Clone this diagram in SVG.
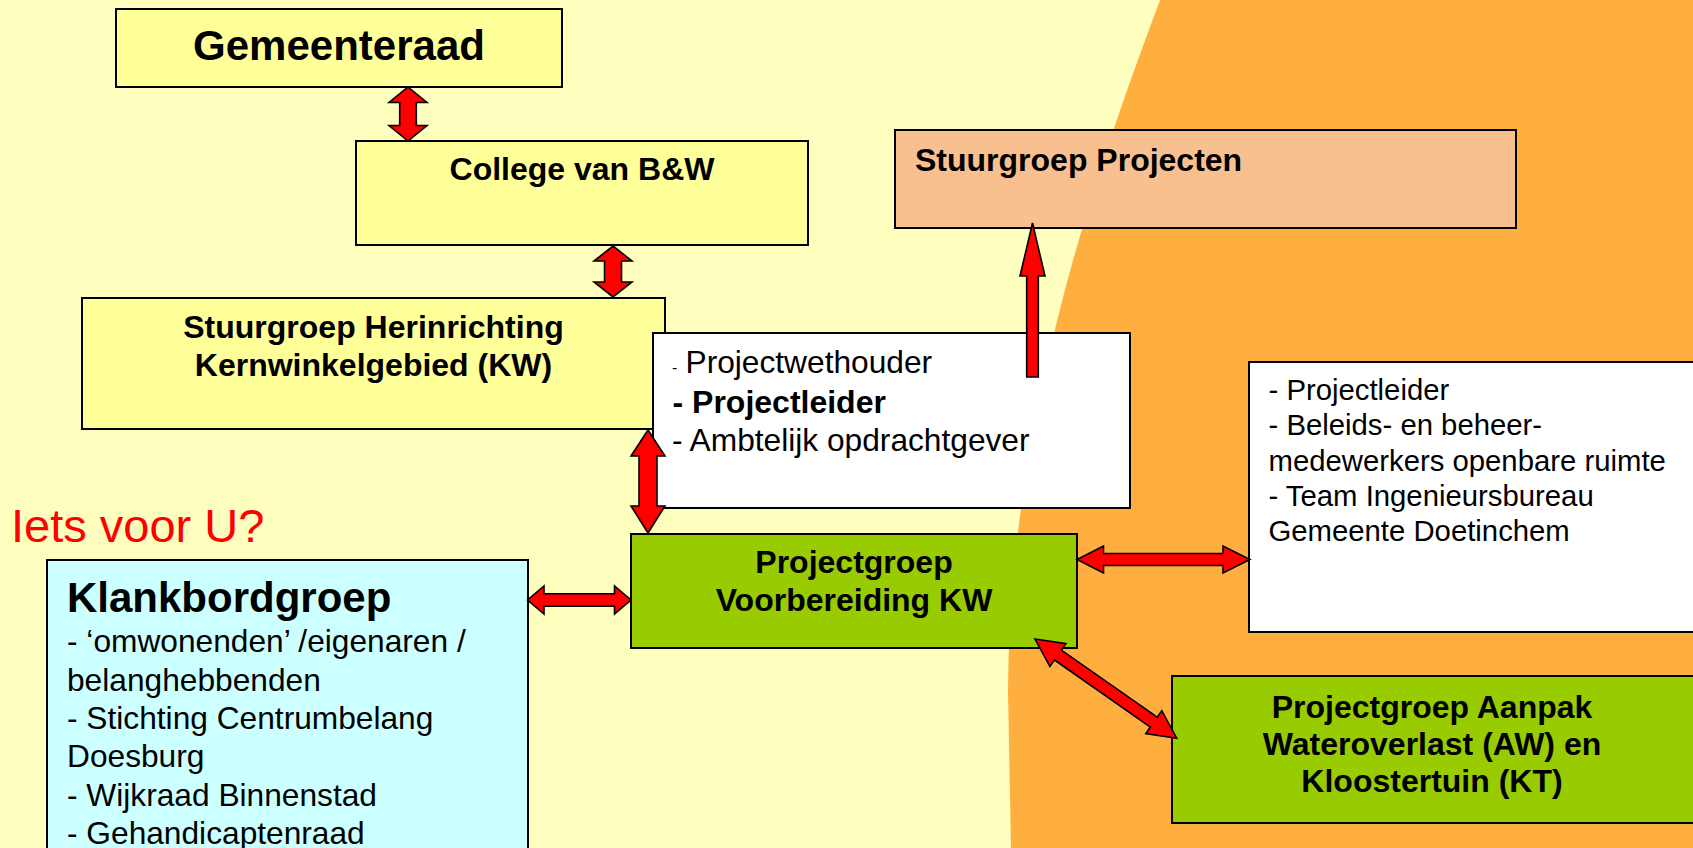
<svg xmlns="http://www.w3.org/2000/svg" width="1693" height="848" viewBox="0 0 1693 848">
<style>
.box{stroke:#000;stroke-width:2}
.yel{fill:#FFFF99}
.grn{fill:#99CC00}
.wht{fill:#FFFFFF}
.cyn{fill:#CCFFFF}
.pch{fill:#F8BF8F}
text{font-family:"Liberation Sans",Arial,sans-serif;fill:#000}
.b{font-weight:bold}
.arr{fill:#FF0000;stroke:#000;stroke-width:1.6;stroke-linejoin:miter}
</style>
<rect x="0" y="0" width="1693" height="848" fill="#FEFEBE"/>
<path d="M1160 0 C1085 200 1010 430 1008 690 L1011 848 L1693 848 L1693 0 Z" fill="#FFAF40"/>

<g id="gemeenteraad">
<rect class="box yel" x="116" y="9" width="446" height="78"/>
<text class="b" x="339" y="60" font-size="42" text-anchor="middle">Gemeenteraad</text>
</g>
<g id="college">
<rect class="box yel" x="356" y="141" width="452" height="104"/>
<text class="b" x="582" y="180" font-size="32" text-anchor="middle">College van B&amp;W</text>
</g>
<g id="stuurgroep-herinrichting">
<rect class="box yel" x="82" y="298" width="583" height="131"/>
<text class="b" x="373.5" y="338" font-size="32" text-anchor="middle">Stuurgroep Herinrichting</text>
<text class="b" x="373.5" y="376" font-size="32" text-anchor="middle">Kernwinkelgebied (KW)</text>
</g>
<g id="stuurgroep-projecten">
<rect class="box pch" x="895" y="130" width="621" height="98"/>
<text class="b" x="915" y="171" font-size="32">Stuurgroep Projecten</text>
</g>
<g id="projectleiding">
<rect class="box wht" x="653" y="333" width="477" height="175"/>
<text x="672" y="373" font-size="31.7"><tspan font-size="16">-</tspan><tspan x="685.5">Projectwethouder</tspan></text>
<text class="b" x="672.5" y="413" font-size="32">- Projectleider</text>
<text x="672" y="451" font-size="31.7">- Ambtelijk opdrachtgever</text>
</g>
<g id="medewerkers">
<rect class="box wht" x="1249" y="362" width="460" height="270"/>
<text x="1268.5" y="400" font-size="29.3">- Projectleider</text>
<text x="1268.5" y="435" font-size="29.3">- Beleids- en beheer-</text>
<text x="1268.5" y="470.5" font-size="29.3">medewerkers openbare ruimte</text>
<text x="1268.5" y="505.5" font-size="29.3">- Team Ingenieursbureau</text>
<text x="1268.5" y="540.5" font-size="29.3">Gemeente Doetinchem</text>
</g>
<g id="iets-voor-u">
<text x="11" y="542" font-size="47" style="fill:#FF0000">Iets voor U?</text>
</g>
<g id="klankbordgroep">
<rect class="box cyn" x="47" y="560" width="481" height="300"/>
<text class="b" x="67" y="612" font-size="42">Klankbordgroep</text>
<text x="67" y="652" font-size="31.7">- ‘omwonenden’ /eigenaren /</text>
<text x="67" y="690.5" font-size="31.7">belanghebbenden</text>
<text x="67" y="728.5" font-size="31.7">- Stichting Centrumbelang</text>
<text x="67" y="767" font-size="31.7">Doesburg</text>
<text x="67" y="805.5" font-size="31.7">- Wijkraad Binnenstad</text>
<text x="67" y="843.5" font-size="31.7">- Gehandicaptenraad</text>
</g>
<g id="projectgroep-kw">
<rect class="box grn" x="631" y="534" width="446" height="114"/>
<text class="b" x="854" y="573" font-size="32" text-anchor="middle">Projectgroep</text>
<text class="b" x="854" y="611" font-size="32" text-anchor="middle">Voorbereiding KW</text>
</g>
<g id="projectgroep-aw-kt">
<rect class="box grn" x="1172" y="676" width="530" height="147"/>
<text class="b" x="1432" y="718" font-size="32" text-anchor="middle">Projectgroep Aanpak</text>
<text class="b" x="1432" y="755" font-size="32" text-anchor="middle">Wateroverlast (AW) en</text>
<text class="b" x="1432" y="792" font-size="32" text-anchor="middle">Kloostertuin (KT)</text>
</g>

<g id="connectors">
<polygon class="arr" points="408,87 427,102.5 416.3,102.5 416.3,125.5 427,125.5 408,141 389,125.5 399.7,125.5 399.7,102.5 389,102.5"/>
<polygon class="arr" points="613,246 632,261 621.5,261 621.5,282 632,282 613,297 594,282 604.5,282 604.5,261 594,261"/>
<polygon class="arr" points="648,430 665,456 657,456 657,506 665,506 648,533 631,506 639,506 639,456 631,456"/>
<polygon class="arr" points="527.5,600 544,586 544,593.7 614.5,593.7 614.5,586 631,600 614.5,614 614.5,606.3 544,606.3 544,614"/>
<polygon class="arr" points="1077,559.5 1103.5,546 1103.5,553.5 1223,553.5 1223,546 1250,559.5 1223,573 1223,565.5 1103.5,565.5 1103.5,573"/>
<polygon class="arr" transform="translate(1035,639) rotate(35)" points="0,0 28,-14 28,-6 145,-6 145,-14 173,0 145,14 145,6 28,6 28,14"/>
<polygon class="arr" points="1032.5,223 1045,276 1038.3,276 1038.3,377 1026.7,377 1026.7,276 1020,276"/>
</g>
</svg>
